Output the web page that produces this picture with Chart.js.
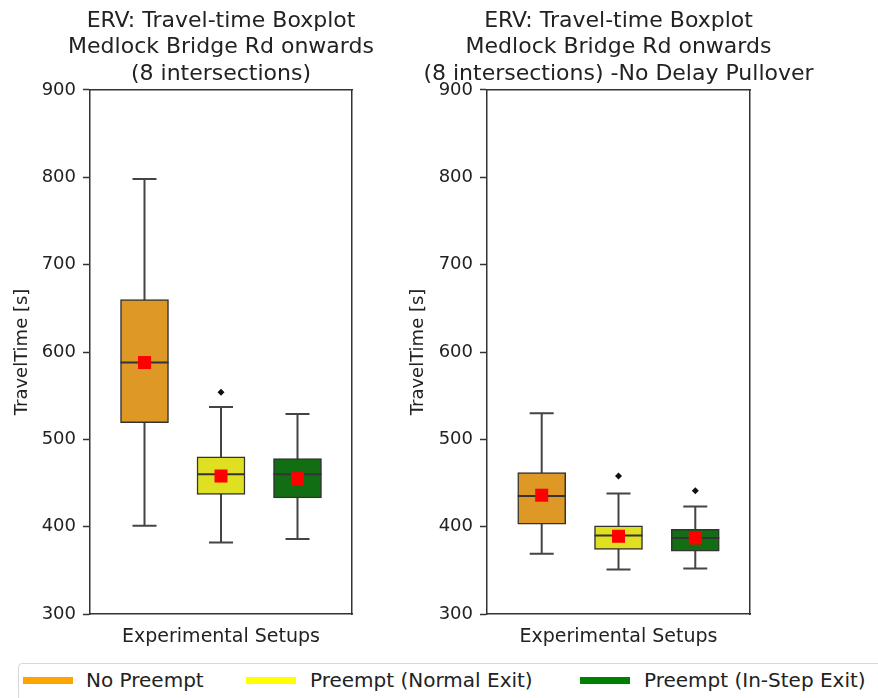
<!DOCTYPE html>
<html>
<head>
<meta charset="utf-8">
<script src="https://cdn.jsdelivr.net/npm/chart.js@4.4.0/dist/chart.umd.min.js"></script>
<style>
  body { margin: 0; background: #fff; width: 878px; height: 698px; overflow: hidden; position: relative; font-family: 'DejaVu Sans', sans-serif; }
  canvas { position: absolute; top: 0; }
  #leftChart { left: 0; }
  #rightChart { left: 402px; }
  .legend { position: absolute; left: 18px; top: 663px; width: 900px; height: 48px; border: 1px solid #d8d8d8; border-radius: 4px; box-sizing: border-box; }
  .swatch { position: absolute; top: 677px; width: 50px; height: 7px; }
  .label { position: absolute; top: 668px; font-size: 20px; color: #222; line-height: 24px; white-space: nowrap; }
</style>
</head>
<body>
<canvas id="leftChart" width="442" height="660"></canvas>
<canvas id="rightChart" width="433" height="660"></canvas>
<div class="legend"></div>
<div class="swatch" style="left:23px;background:#ffa500"></div>
<div class="label" style="left:86px">No Preempt</div>
<div class="swatch" style="left:246px;background:#ffff00"></div>
<div class="label" style="left:310px">Preempt (Normal Exit)</div>
<div class="swatch" style="left:580px;background:#008000"></div>
<div class="label" style="left:644px">Preempt (In-Step Exit)</div>
<script>
// setups, drawn at x = 1, 2, 3
const setups = ['No Preempt', 'Preempt (Normal Exit)', 'Preempt (In-Step Exit)'];
const positions = [1, 2, 3];
const boxColors = ['rgb(222,152,38)', 'rgb(224,224,34)', 'rgb(18,110,18)'];

const yMin = 300;
const yMax = 900;
const yStep = 100;

// left panel: all stops
const leftLow = [401, 382, 386];
const leftQ1 = [519, 437, 433];
const leftMedian = [588, 460, 460];
const leftQ3 = [660, 480, 478];
const leftHigh = [798, 537, 529];
const leftMean = [588, 458, 455];
const leftOutliers = [[], [554], []];

// right panel: no delay pullover
const rightLow = [369, 351, 352];
const rightQ1 = [403, 374, 372];
const rightMedian = [435, 390, 387];
const rightQ3 = [462, 401, 397];
const rightHigh = [530, 438, 423];
const rightMean = [436, 389, 387];
const rightOutliers = [[], [458], [441]];

Chart.defaults.font.family = "'DejaVu Sans', sans-serif";
Chart.defaults.color = '#222';

const frameColor = '#333';

// whiskers + caps behind the boxes, median line on top of them
const boxWhiskers = {
    id: 'boxWhiskers',
    beforeDatasetsDraw(chart) {
        const stats = chart.data.datasets[0].stats;
        const yScale = chart.scales.y;
        const ctx = chart.ctx;
        const meta = chart.getDatasetMeta(0);
        ctx.save();
        ctx.strokeStyle = '#444';
        ctx.lineWidth = 2;
        meta.data.forEach((bar, i) => {
            const cx = bar.x;
            const half = bar.width / 4;
            const yl = yScale.getPixelForValue(stats.low[i]);
            const yh = yScale.getPixelForValue(stats.high[i]);
            ctx.beginPath();
            ctx.moveTo(cx, yl); ctx.lineTo(cx, yh);
            ctx.moveTo(cx - half, yl); ctx.lineTo(cx + half, yl);
            ctx.moveTo(cx - half, yh); ctx.lineTo(cx + half, yh);
            ctx.stroke();
        });
        ctx.restore();
    },
    afterDatasetDraw(chart, args) {
        if (args.index !== 0) return;
        const stats = chart.data.datasets[0].stats;
        const yScale = chart.scales.y;
        const ctx = chart.ctx;
        ctx.save();
        ctx.strokeStyle = '#333';
        ctx.lineWidth = 2;
        args.meta.data.forEach((bar, i) => {
            const ym = yScale.getPixelForValue(stats.median[i]);
            ctx.beginPath();
            ctx.moveTo(bar.x - bar.width / 2, ym);
            ctx.lineTo(bar.x + bar.width / 2, ym);
            ctx.stroke();
        });
        ctx.restore();
    }
};

function makeChart(id, titleLines, low, q1, median, q3, high, mean, outliers, axisWidth, yTitlePad) {
    const outlierPoints = [];
    outliers.forEach((list, i) => list.forEach(v => outlierPoints.push({ x: positions[i], y: v })));

    return new Chart(document.getElementById(id), {
        type: 'bar',
        data: {
            datasets: [{
                type: 'bar',
                label: 'box',
                order: 3, // drawn first, under the markers
                data: positions.map((p, i) => ({ x: p, y: [q1[i], q3[i]] })),
                stats: { low: low, high: high, median: median },
                backgroundColor: boxColors,
                borderColor: '#333',
                borderWidth: 1.5,
                borderSkipped: false,
                barThickness: 48,
                xAxisID: 'x',
                yAxisID: 'y'
            }, {
                type: 'scatter',
                label: 'mean',
                order: 1,
                data: positions.map((p, i) => ({ x: p, y: mean[i] })),
                pointStyle: 'rect',
                pointRadius: 9.2,
                backgroundColor: '#ff0000',
                borderWidth: 0,
                xAxisID: 'x',
                yAxisID: 'y'
            }, {
                type: 'scatter',
                label: 'outliers',
                order: 2,
                data: outlierPoints,
                pointStyle: 'rectRot',
                pointRadius: 3.5,
                backgroundColor: '#111',
                borderWidth: 0,
                xAxisID: 'x',
                yAxisID: 'y'
            }]
        },
        options: {
            responsive: false,
            animation: false,
            layout: { padding: 0 },
            plugins: {
                legend: { display: false },
                tooltip: { enabled: false },
                title: {
                    display: true,
                    text: titleLines,
                    font: { size: 22, weight: 'normal', lineHeight: 1.2 },
                    color: '#222',
                    padding: { top: 8, bottom: 2.8 }
                }
            },
            scales: {
                x: {
                    type: 'linear',
                    position: 'bottom',
                    min: 0.63,
                    max: 3.37,
                    grid: { display: true, drawOnChartArea: false, drawTicks: false },
                    border: { display: true, color: frameColor, width: 1.5 },
                    ticks: { display: false },
                    title: { display: true, text: 'Experimental Setups', font: { size: 19 }, color: '#222', padding: { top: 0, bottom: 11.6 } },
                    afterFit: s => { s.height = 46; }
                },
                x2: {
                    type: 'linear',
                    position: 'top',
                    grid: { display: true, drawOnChartArea: false, drawTicks: false },
                    border: { display: true, color: frameColor, width: 1.5 },
                    ticks: { display: false },
                    afterFit: s => { s.height = 0; }
                },
                y: {
                    type: 'linear',
                    position: 'left',
                    min: yMin,
                    max: yMax,
                    grid: { display: true, drawOnChartArea: false, drawTicks: true, tickLength: 7, tickColor: frameColor, tickWidth: 1.5 },
                    border: { display: true, color: frameColor, width: 1.5 },
                    ticks: { stepSize: yStep, padding: 7, font: { size: 18 }, color: '#222' },
                    title: { display: true, text: 'TravelTime [s]', font: { size: 18 }, color: '#222', padding: { top: yTitlePad, bottom: 0 } },
                    afterFit: s => { s.width = axisWidth; }
                },
                y2: {
                    type: 'linear',
                    position: 'right',
                    grid: { display: true, drawOnChartArea: false, drawTicks: false },
                    border: { display: true, color: frameColor, width: 1.5 },
                    ticks: { display: false },
                    afterFit: s => { s.width = axisWidth; }
                }
            }
        },
        plugins: [boxWhiskers]
    });
}

makeChart('leftChart',
    ['ERV: Travel-time Boxplot', 'Medlock Bridge Rd onwards', '(8 intersections)'],
    leftLow, leftQ1, leftMedian, leftQ3, leftHigh, leftMean, leftOutliers, 90, 12);

makeChart('rightChart',
    ['ERV: Travel-time Boxplot', 'Medlock Bridge Rd onwards', '(8 intersections) -No Delay Pullover'],
    rightLow, rightQ1, rightMedian, rightQ3, rightHigh, rightMean, rightOutliers, 85, 6);
</script>
</body>
</html>
